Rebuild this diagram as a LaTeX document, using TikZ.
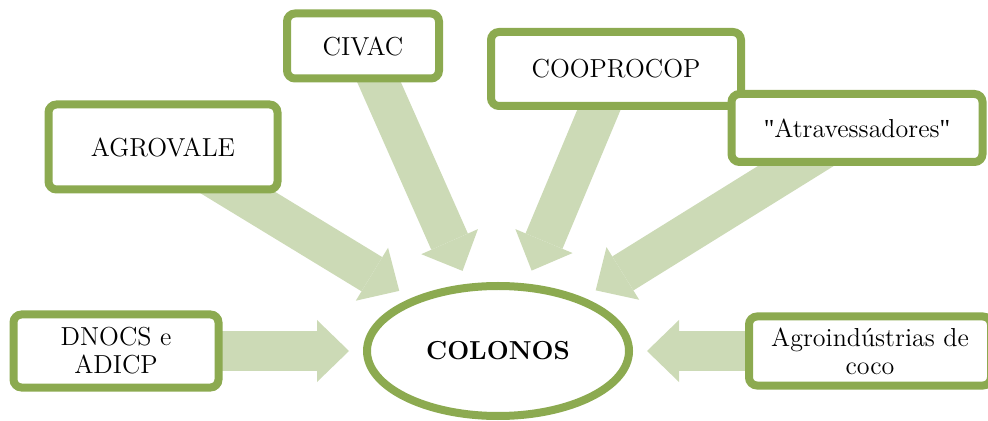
\documentclass[tikz,border=0pt]{standalone}
\usepackage{fontspec}
\usepackage{tikz}
\usetikzlibrary{arrows.meta,shapes.geometric,backgrounds}
\newfontfamily\quotefont{Liberation Serif}
\definecolor{leafgreen}{RGB}{140,170,80}
\definecolor{palegreen}{RGB}{204,218,182}

\begin{document}
\begin{tikzpicture}[x=0.5pt, y=-0.5pt,
    actor/.style={draw=leafgreen, line width=4pt, rectangle, rounded corners=4pt, fill=white, align=center, font=\fontsize{13}{14}\selectfont, inner sep=2pt},
    colono/.style={draw=leafgreen, line width=4pt, ellipse, fill=white, minimum width=131pt, minimum height=65pt, inner sep=0pt, font=\fontsize{13}{14}\selectfont\bfseries},
    flow/.style={draw=palegreen, line width=20pt, -{Triangle[width=31pt,length=16pt,line width=0pt]}, shorten >=7pt}
]
\useasboundingbox (0,0) rectangle (988,421);

% Actors
\node[actor, minimum width=114.5pt, minimum height=42.5pt] (agrovale) at (163,147) {AGROVALE};
\node[actor, minimum width=76pt, minimum height=32.5pt] (civac) at (363,46) {CIVAC};
\node[actor, minimum width=125pt, minimum height=37pt] (cooprocop) at (616,69) {COOPROCOP};
\node[actor, minimum width=125.5pt, minimum height=34pt] (atrav) at (857,128) {{\quotefont"}Atravessadores{\quotefont"}};
\node[actor, minimum width=102.5pt, minimum height=36.5pt] (dnocs) at (116,351) {DNOCS e\\ADICP};
\node[actor, minimum width=121pt, minimum height=34.5pt] (agroind) at (870,351) {Agroindústrias de\\coco};

% Center
\node[colono] (colonos) at (498,351) {COLONOS};

% Connections
\begin{scope}[on background layer]
\draw[flow] (agrovale.center) -- (colonos);
\draw[flow] (civac.center) -- (colonos);
\draw[flow] (cooprocop.center) -- (colonos);
\draw[flow] (atrav.center) -- (colonos);
\draw[flow] (dnocs.center) -- (colonos);
\draw[flow] (agroind.center) -- (colonos);
\end{scope}

\end{tikzpicture}
\end{document}
